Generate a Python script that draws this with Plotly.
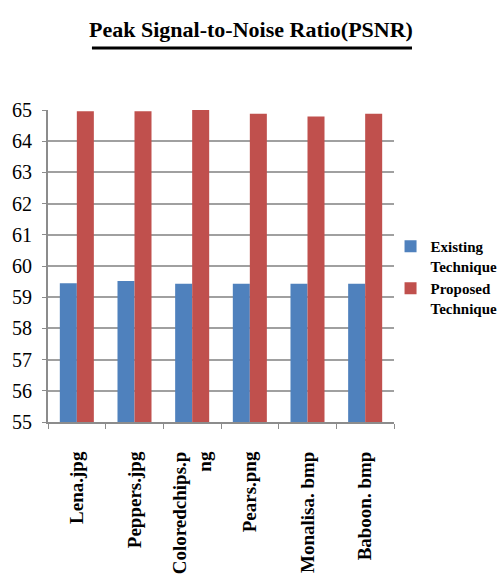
import plotly.graph_objects as go

images = ["Lena.jpg", "Peppers.jpg", "Coloredchips.p<br>ng", "Pears.png", "Monalisa. bmp", "Baboon. bmp"]
existing = [59.45, 59.52, 59.43, 59.43, 59.43, 59.43]
proposed = [64.96, 64.96, 65.0, 64.88, 64.79, 64.88]
y_ticks = list(range(55, 66))

serif = "Liberation Serif"

fig = go.Figure()
fig.add_trace(go.Bar(x=images, y=existing, name="<b>Existing<br>Technique</b>",
                     marker=dict(color="#4F81BD", line=dict(width=0))))
fig.add_trace(go.Bar(x=images, y=proposed, name="<b>Proposed<br>Technique</b>",
                     marker=dict(color="#C0504D", line=dict(width=0))))

fig.update_layout(
    width=502, height=585,
    margin=dict(l=48, r=108, t=110, b=163, autoexpand=False),
    paper_bgcolor="white", plot_bgcolor="white",
    barmode="group", bargap=0.41, bargroupgap=0,
    title=dict(text="<b>Peak Signal-to-Noise Ratio(PSNR)</b>",
               x=0.5, xanchor="center", xref="container",
               y=0.95, yanchor="middle",
               font=dict(family=serif, size=22, color="black")),
    showlegend=True,
    legend=dict(x=0.99, y=0.465, xanchor="left", yanchor="middle", valign="top",
                font=dict(family=serif, size=15, color="black"),
                itemwidth=30, tracegroupgap=16, bgcolor="rgba(0,0,0,0)"),
    font=dict(family=serif, color="black"),
)

fig.update_yaxes(range=[55, 65], tickvals=y_ticks, ticktext=[str(v) for v in y_ticks],
                 showgrid=True, gridcolor="#A0A0A0", gridwidth=1.6,
                 showline=True, linecolor="#8C8C8C", linewidth=2,
                 ticks="outside", ticklen=4, tickcolor="#8C8C8C",
                 ticklabelstandoff=6,
                 tickfont=dict(family=serif, size=20, color="black"),
                 zeroline=False, fixedrange=True)
fig.update_xaxes(showline=True, linecolor="#8C8C8C", linewidth=2,
                 ticks="outside", ticklen=5, tickcolor="#8C8C8C", tickson="boundaries",
                 tickangle=-90, tickfont=dict(family=serif, size=19, color="black"),
                 tickvals=images, ticktext=[f"<b>{c}</b>" for c in images],
                 ticklabelstandoff=20)

# thick underline under the chart title
fig.add_shape(type="line", xref="paper", yref="paper",
              x0=0.127, x1=1.052, y0=1.199, y1=1.199,
              line=dict(color="black", width=3))

fig.write_html("out.html")
